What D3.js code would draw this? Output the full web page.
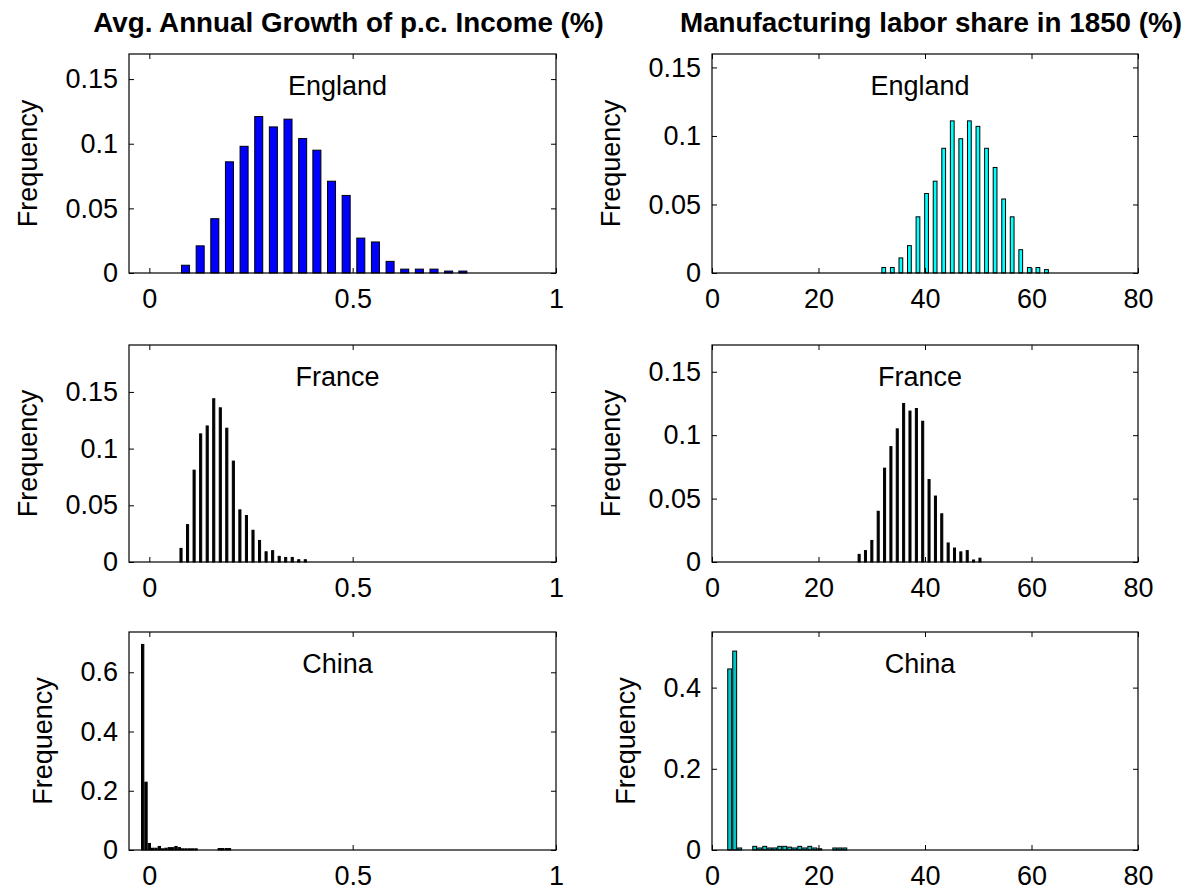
<!DOCTYPE html>
<html>
<head>
<meta charset="utf-8">
<script src="https://cdn.jsdelivr.net/npm/d3@7"></script>
<style>
  body { margin: 0; background: #ffffff; }
  text { font-family: "Liberation Sans", Arial, sans-serif; fill: #000; }
</style>
</head>
<body>
<svg id="chart" width="1192" height="891"></svg>
<script>
// ---- text ----
const columnTitles = ["Avg. Annual Growth of p.c. Income (%)", "Manufacturing labor share in 1850 (%)"];
const countryNames = ["England", "France", "China"];
const yAxisLabel = "Frequency";

// ---- tick values ----
const growthTicksX = [0, 0.5, 1];
const laborTicksX = [0, 20, 40, 60, 80];
const freqTicksSmall = [0, 0.05, 0.1, 0.15];
const freqTicksChinaGrowth = [0, 0.2, 0.4, 0.6];
const freqTicksChinaLabor = [0, 0.2, 0.4];

// ---- England ----
const englandGrowthBins = [0.089, 0.125, 0.161, 0.197, 0.233, 0.269, 0.305, 0.341, 0.377, 0.412,
                           0.448, 0.484, 0.520, 0.556, 0.592, 0.628, 0.664, 0.700, 0.736, 0.771];
const englandGrowthFreq = [0.006, 0.021, 0.042, 0.086, 0.098, 0.121, 0.113, 0.119, 0.104, 0.095,
                           0.071, 0.060, 0.027, 0.024, 0.009, 0.003, 0.003, 0.003, 0.0015, 0.0015];
const englandLaborBins = [32.25, 33.86, 35.47, 37.07, 38.68, 40.29, 41.90, 43.51, 45.12, 46.72,
                          48.33, 49.94, 51.55, 53.16, 54.77, 56.37, 57.98, 59.59, 61.20, 62.81];
const englandLaborFreq = [0.004, 0.004, 0.011, 0.020, 0.041, 0.058, 0.067, 0.091, 0.111, 0.098,
                          0.111, 0.107, 0.091, 0.077, 0.054, 0.041, 0.017, 0.004, 0.004, 0.0025];

// ---- France ----
const franceGrowthBins = [0.0779, 0.0940, 0.1101, 0.1262, 0.1423, 0.1584, 0.1745, 0.1905, 0.2066, 0.2227,
                          0.2388, 0.2549, 0.2710, 0.2871, 0.3032, 0.3193, 0.3353, 0.3514, 0.3675, 0.3836];
const franceGrowthFreq = [0.012, 0.033, 0.081, 0.113, 0.120, 0.144, 0.136, 0.118, 0.089, 0.046,
                          0.041, 0.028, 0.019, 0.009, 0.010, 0.005, 0.004, 0.004, 0.002, 0.002];
const franceLaborBins = [27.63, 28.82, 30.02, 31.21, 32.41, 33.60, 34.79, 35.99, 37.18, 38.38,
                         39.57, 40.76, 41.96, 43.15, 44.35, 45.54, 46.73, 47.93, 49.12, 50.32];
const franceLaborFreq = [0.006, 0.009, 0.017, 0.040, 0.074, 0.091, 0.105, 0.125, 0.119, 0.121,
                         0.111, 0.065, 0.052, 0.038, 0.015, 0.011, 0.008, 0.009, 0.0016, 0.003];

// ---- China ----
const chinaGrowthBins = [-0.0164, -0.0082, 0.0, 0.0082, 0.0164, 0.0246, 0.0328, 0.0410, 0.0492, 0.0574,
                         0.0656, 0.0738, 0.0820, 0.0902, 0.0984, 0.1066, 0.1148, 0.172, 0.180, 0.189, 0.197];
const chinaGrowthFreq = [0.694, 0.229, 0.022, 0.006, 0.006, 0.012, 0.004, 0.006, 0.008, 0.008,
                         0.012, 0.008, 0.004, 0.004, 0.004, 0.004, 0.004, 0.005, 0.005, 0.005, 0.005];
const chinaLaborBins = [3.32, 4.26, 5.20, 8.02, 8.96, 9.90, 10.84, 11.78, 12.72, 13.66, 14.60,
                        15.54, 16.48, 17.42, 18.36, 19.30, 20.24, 23.06, 24.00, 24.94];
const chinaLaborFreq = [0.446, 0.490, 0.005, 0.009, 0.005, 0.009, 0.005, 0.005, 0.009, 0.009, 0.007,
                        0.005, 0.009, 0.005, 0.009, 0.005, 0.003, 0.005, 0.005, 0.005];

// ---- layout ----
const FONT = 27;
const colX = [{ left: 129, right: 556 }, { left: 712, right: 1138 }];
const rowY = [{ top: 54, bottom: 273 }, { top: 345, bottom: 562 }, { top: 632, bottom: 850 }];

const panels = [
  { row: 0, col: 0, bins: englandGrowthBins, freq: englandGrowthFreq, xDomain: [-0.05, 1], xTicks: growthTicksX,
    yMax: 0.1694, yTicks: freqTicksSmall, binStep: 0.0359, widthRatio: 0.55, fill: "#0000ff" },
  { row: 0, col: 1, bins: englandLaborBins, freq: englandLaborFreq, xDomain: [0, 80], xTicks: laborTicksX,
    yMax: 0.1598, yTicks: freqTicksSmall, binStep: 1.608, widthRatio: 0.44, fill: "#00ffff" },
  { row: 1, col: 0, bins: franceGrowthBins, freq: franceGrowthFreq, xDomain: [-0.05, 1], xTicks: growthTicksX,
    yMax: 0.1914, yTicks: freqTicksSmall, binStep: 0.01609, widthRatio: 0.32, fill: "#000000" },
  { row: 1, col: 1, bins: franceLaborBins, freq: franceLaborFreq, xDomain: [0, 80], xTicks: laborTicksX,
    yMax: 0.1711, yTicks: freqTicksSmall, binStep: 1.194, widthRatio: 0.32, fill: "#000000" },
  { row: 2, col: 0, bins: chinaGrowthBins, freq: chinaGrowthFreq, xDomain: [-0.05, 1], xTicks: growthTicksX,
    yMax: 0.736, yTicks: freqTicksChinaGrowth, binStep: 0.0082, widthRatio: 0.7, fill: "#000000" },
  { row: 2, col: 1, bins: chinaLaborBins, freq: chinaLaborFreq, xDomain: [0, 80], xTicks: laborTicksX,
    yMax: 0.537, yTicks: freqTicksChinaLabor, binStep: 0.94, widthRatio: 0.78, fill: "#00c8c8" }
];

const svg = d3.select("#chart");
const fmt = v => String(+v.toFixed(4));

// column titles
columnTitles.forEach((t, i) => {
  svg.append("text")
    .attr("x", (colX[i].left + colX[i].right) / 2 + 6)
    .attr("y", 32)
    .attr("text-anchor", "middle")
    .style("font-weight", "bold")
    .style("font-size", "27.8px")
    .text(t);
});

panels.forEach(p => {
  const L = colX[p.col].left, R = colX[p.col].right;
  const T = rowY[p.row].top, B = rowY[p.row].bottom;
  const x = d3.scaleLinear().domain(p.xDomain).range([L, R]);
  const y = d3.scaleLinear().domain([0, p.yMax]).range([B, T]);
  const g = svg.append("g");

  // bars
  const data = p.bins.map((b, i) => ({ b, f: p.freq[i] }));
  const halfW = p.binStep * p.widthRatio / 2;
  g.selectAll("rect.bar").data(data).join("rect")
    .attr("class", "bar")
    .attr("x", d => x(d.b - halfW))
    .attr("width", d => x(d.b + halfW) - x(d.b - halfW))
    .attr("y", d => y(d.f))
    .attr("height", d => y(0) - y(d.f))
    .attr("fill", p.fill)
    .attr("stroke", "#000")
    .attr("stroke-width", 1);

  // axes with inward ticks
  const styleAxis = sel => {
    sel.select(".domain").remove();
    sel.selectAll(".tick line").attr("stroke", "#000");
    sel.selectAll(".tick text").style("font-size", FONT + "px").attr("fill", "#000");
  };
  g.append("g").attr("transform", `translate(0,${B})`)
    .call(d3.axisBottom(x).tickValues(p.xTicks).tickFormat(fmt).tickSizeInner(-5).tickSizeOuter(0).tickPadding(16))
    .call(styleAxis);
  g.append("g").attr("transform", `translate(0,${T})`)
    .call(d3.axisTop(x).tickValues(p.xTicks).tickFormat("").tickSizeInner(-5).tickSizeOuter(0))
    .call(styleAxis);
  const yAxisG = g.append("g").attr("transform", `translate(${L},0)`)
    .call(d3.axisLeft(y).tickValues(p.yTicks).tickFormat(fmt).tickSizeInner(-5).tickSizeOuter(0).tickPadding(11))
    .call(styleAxis);
  g.append("g").attr("transform", `translate(${R},0)`)
    .call(d3.axisRight(y).tickValues(p.yTicks).tickFormat("").tickSizeInner(-5).tickSizeOuter(0))
    .call(styleAxis);

  // frame
  g.append("rect")
    .attr("x", L).attr("y", T).attr("width", R - L).attr("height", B - T)
    .attr("fill", "none").attr("stroke", "#000").attr("stroke-width", 1.2);

  // country label
  g.append("text")
    .attr("x", (L + R) / 2 - 5)
    .attr("y", T + 41)
    .attr("text-anchor", "middle")
    .style("font-size", FONT + "px")
    .text(countryNames[p.row]);

  // y-axis label sits just left of the widest tick label
  let maxW = 0;
  yAxisG.selectAll(".tick text").each(function () { maxW = Math.max(maxW, this.getBBox().width); });
  g.append("text")
    .attr("transform", `translate(${L - 11 - maxW - 28},${(T + B) / 2}) rotate(-90)`)
    .attr("text-anchor", "middle")
    .style("font-size", FONT + "px")
    .text(yAxisLabel);
});
</script>
</body>
</html>
